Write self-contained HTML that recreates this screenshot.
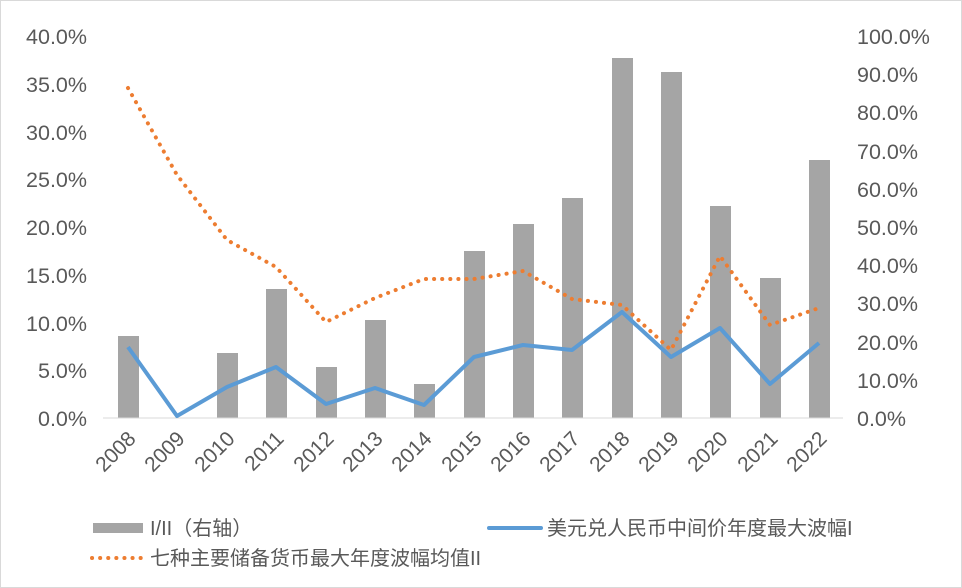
<!DOCTYPE html>
<html><head><meta charset="utf-8"><style>
html,body{margin:0;padding:0;background:#fff}
svg{display:block;font-family:"Liberation Sans","Noto Sans CJK SC",sans-serif}
</style></head><body>
<svg width="962" height="588" viewBox="0 0 962 588">
<rect x="0.5" y="0.5" width="961" height="587" fill="#fff" stroke="#d9d9d9"/>
<g fill="#595959" font-size="21.5" text-anchor="end">
<text x="87" y="44">40.0%</text><text x="87" y="92">35.0%</text><text x="87" y="140">30.0%</text><text x="87" y="187">25.0%</text><text x="87" y="235">20.0%</text><text x="87" y="283">15.0%</text><text x="87" y="331">10.0%</text><text x="87" y="378">5.0%</text><text x="87" y="426">0.0%</text>
</g>
<g fill="#595959" font-size="21.5" text-anchor="start">
<text x="857" y="44">100.0%</text><text x="857" y="82">90.0%</text><text x="857" y="120">80.0%</text><text x="857" y="159">70.0%</text><text x="857" y="197">60.0%</text><text x="857" y="235">50.0%</text><text x="857" y="273">40.0%</text><text x="857" y="311">30.0%</text><text x="857" y="350">20.0%</text><text x="857" y="388">10.0%</text><text x="857" y="426">0.0%</text>
</g>
<g fill="#a5a5a5">
<rect x="118" y="336" width="21" height="82"/>
<rect x="217" y="353" width="21" height="65"/>
<rect x="266" y="289" width="21" height="129"/>
<rect x="316" y="367" width="21" height="51"/>
<rect x="365" y="320" width="21" height="98"/>
<rect x="414" y="384" width="21" height="34"/>
<rect x="464" y="251" width="21" height="167"/>
<rect x="513" y="224" width="21" height="194"/>
<rect x="562" y="198" width="21" height="220"/>
<rect x="612" y="58" width="21" height="360"/>
<rect x="661" y="72" width="21" height="346"/>
<rect x="710" y="206" width="21" height="212"/>
<rect x="760" y="278" width="21" height="140"/>
<rect x="809" y="160" width="21" height="258"/>
</g>
<line x1="103" y1="418" x2="843" y2="418" stroke="#d9d9d9" stroke-width="1"/>
<polyline fill="none" stroke="#5b9bd5" stroke-width="4" stroke-linejoin="round" points="128,347 177,416 227,387 276,367 326,404 375,388 424,405 474,357 523,345 572,350 622,312 671,357 720,328 770,384 819,343"/>
<polyline fill="none" stroke="#ed7d31" stroke-width="4" stroke-linecap="round" stroke-dasharray="0.1 8" points="128,88 177,175 227,240 276,267 326,322 375,298 424,279 474,279 523,271 572,299 622,305 671,350 720,256 770,325 819,308"/>
<g fill="#595959" font-size="21" text-anchor="end">
<text transform="translate(137,440) rotate(-45)">2008</text>
<text transform="translate(186,440) rotate(-45)">2009</text>
<text transform="translate(236,440) rotate(-45)">2010</text>
<text transform="translate(285,440) rotate(-45)">2011</text>
<text transform="translate(335,440) rotate(-45)">2012</text>
<text transform="translate(384,440) rotate(-45)">2013</text>
<text transform="translate(433,440) rotate(-45)">2014</text>
<text transform="translate(483,440) rotate(-45)">2015</text>
<text transform="translate(532,440) rotate(-45)">2016</text>
<text transform="translate(581,440) rotate(-45)">2017</text>
<text transform="translate(631,440) rotate(-45)">2018</text>
<text transform="translate(680,440) rotate(-45)">2019</text>
<text transform="translate(729,440) rotate(-45)">2020</text>
<text transform="translate(779,440) rotate(-45)">2021</text>
<text transform="translate(828,440) rotate(-45)">2022</text>
</g>
<rect x="93" y="523" width="50" height="10" fill="#a5a5a5"/>
<text x="150" y="535" font-size="20" fill="#595959">I/II（右轴）</text>
<line x1="489" y1="528" x2="541" y2="528" stroke="#5b9bd5" stroke-width="4" stroke-linecap="round"/>
<text x="547" y="535" font-size="20" fill="#595959">美元兑人民币中间价年度最大波幅I</text>
<line x1="92" y1="558" x2="141" y2="558" stroke="#ed7d31" stroke-width="4" stroke-linecap="round" stroke-dasharray="0.1 8"/>
<text x="150" y="565" font-size="20" fill="#595959">七种主要储备货币最大年度波幅均值II</text>
</svg>
</body></html>
